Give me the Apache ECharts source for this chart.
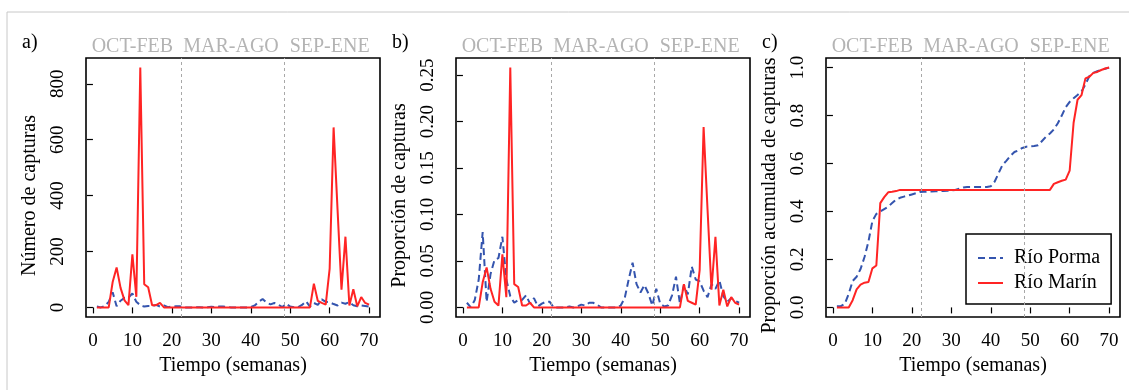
<!DOCTYPE html>
<html>
<head>
<meta charset="utf-8">
<script src="https://cdn.jsdelivr.net/npm/echarts@6/dist/echarts.min.js"></script>
<style>
html,body{margin:0;padding:0;background:#fff;}
#chart{width:1129px;height:390px;}
</style>
</head>
<body>
<div id="chart"></div>
<script>
// ---------- data ----------
const weeks = [1,2,3,4,5,6,7,8,9,10,11,12,13,14,15,16,17,18,19,20,21,22,23,24,25,26,27,28,29,30,31,32,33,34,35,36,37,38,39,40,41,42,43,44,45,46,47,48,49,50,51,52,53,54,55,56,57,58,59,60,61,62,63,64,65,66,67,68,69,70];

const seriesNames = ['Río Porma', 'Río Marín'];

// a) Número de capturas
const pormaCounts = [3,0,5,20,54,4,24,34,35,50, 20,8,3,5,5,9,3,7,1,3, 4,4,0,0,0,0,1,0,1,2, 1,3,3,2,0,0,0,0,0,1, 7,20,30,17,11,16,10,1,13,3, 1,1,9,22,3,16,9,29,20,18, 12,7,17,13,19,8,4,7,5,3];
const marinCounts = [0,0,0,0,91,143,70,25,8,190, 38,858,83,72,8,8,16,0,0,0,
  0,0,0,0,0,0,0,0,0,0, 0,0,0,0,0,0,0,0,0,0, 0,0,0,0,0,0,0,0,0,0, 0,0,0,0,0,
  85,23,16,10,139,644,350,63,253,7,65,4,37,16,10];

// b) Proporción de capturas
const pormaProp = [0.005,0,0.008,0.030,0.081,0.006,0.036,0.051,0.053,0.076,
  0.030,0.012,0.005,0.008,0.008,0.013,0.004,0.010,0.001,0.004,
  0.006,0.006,0,0,0,0,0.001,0,0.001,0.003,
  0.002,0.005,0.005,0.003,0,0,0,0,0,0.002,
  0.010,0.030,0.048,0.025,0.016,0.024,0.015,0.002,0.020,0.004,
  0.001,0.002,0.013,0.033,0.004,0.024,0.014,0.044,0.030,0.028,
  0.018,0.011,0.025,0.020,0.029,0.012,0.006,0.010,0.007,0.005];
const marinProp = [0,0,0,0,0.027,0.043,0.020,0.006,0.002,0.057,
  0.011,0.258,0.025,0.022,0.002,0.002,0.005,0,0,0,
  0,0,0,0,0,0,0,0,0,0, 0,0,0,0,0,0,0,0,0,0, 0,0,0,0,0,0,0,0,0,0, 0,0,0,0,0,
  0.025,0.007,0.005,0.003,0.040,0.194,0.105,0.019,0.076,0.002,0.019,0.001,0.011,0.005,0.003];

// c) Proporción acumulada de capturas
const pormaCum = [0.005,0.005,0.015,0.057,0.110,0.128,0.160,0.210,0.275,0.360,
  0.390,0.400,0.410,0.420,0.435,0.450,0.457,0.462,0.466,0.471,
  0.476,0.481,0.482,0.483,0.483,0.484,0.485,0.485,0.486,0.488,
  0.490,0.495,0.500,0.502,0.502,0.502,0.502,0.502,0.502,0.505,
  0.525,0.560,0.595,0.612,0.632,0.648,0.655,0.665,0.670,0.672,
  0.673,0.676,0.694,0.712,0.725,0.742,0.768,0.800,0.835,0.857,
  0.872,0.886,0.900,0.930,0.965,0.978,0.985,0.990,0.995,1.000];
const marinCum = [0,0,0,0,0.030,0.075,0.095,0.103,0.106,0.163,
  0.175,0.435,0.460,0.480,0.482,0.485,0.490,
  0.490,0.490,0.490,0.490,0.490,0.490,0.490,0.490,0.490,0.490,
  0.490,0.490,0.490,0.490,0.490,0.490,0.490,0.490,0.490,0.490,
  0.490,0.490,0.490,0.490,0.490,0.490,0.490,0.490,0.490,0.490,
  0.490,0.490,0.490,0.490,0.490,0.490,0.490,0.490,
  0.515,0.522,0.528,0.533,0.570,0.770,0.866,0.885,0.955,0.962,0.978,0.982,0.990,0.996,1.000];

// axes / annotation text
const xTicks = [0,10,20,30,40,50,60,70];
const yTicksA = [0,200,400,600,800];
const yTicksB = [0,0.05,0.10,0.15,0.20,0.25];
const yTicksC = [0,0.2,0.4,0.6,0.8,1.0];
const seasonPos = [10,35,60];
const seasonLabels = ['OCT-FEB','MAR-AGO','SEP-ENE'];
const seasonBreaks = [22.5,48.5];
const panelLabels = ['a)','b)','c)'];
const yTitles = ['Número de capturas','Proporción de capturas','Proporción acumulada de capturas'];
const xTitle = 'Tiempo (semanas)';

// ---------- chart ----------
const FONT = 'Liberation Serif, Times New Roman, serif';
const BLUE = '#3454ae';
const RED = '#ff2424';
const gridLefts = [86, 456, 826];
const gridW = 294, gridTop = 58, gridH = 259;

function rRange(arrs){ // R-style 4% padding
  let lo = Infinity, hi = -Infinity;
  arrs.forEach(a => a.forEach(v => { lo = Math.min(lo, v); hi = Math.max(hi, v); }));
  const pad = (hi - lo) * 0.04;
  return [lo - pad, hi + pad];
}
const xr = rRange([weeks]);
const panels = [
  {blue: pormaCounts, red: marinCounts, ticks: yTicksA, dec: 0, nameX: 30},
  {blue: pormaProp, red: marinProp, ticks: yTicksB, dec: 2, nameX: 400},
  {blue: pormaCum, red: marinCum, ticks: yTicksC, dec: 1, nameX: 770}
];

const grid = [], xAxis = [], yAxis = [], series = [], title = [];
panels.forEach((p, i) => {
  grid.push({left: gridLefts[i], top: gridTop, width: gridW, height: gridH,
    show: true, borderColor: '#000', borderWidth: 1.6, backgroundColor: 'transparent'});
  const yr = rRange([p.blue, p.red]);
  xAxis.push({type: 'value', gridIndex: i, min: xr[0], max: xr[1], position: 'bottom',
    axisLine: {show: false}, splitLine: {show: false},
    axisTick: {show: true, length: 6, customValues: xTicks, lineStyle: {color: '#000', width: 1.2}},
    axisLabel: {customValues: xTicks, color: '#000', fontFamily: FONT, fontSize: 19, margin: 15},
    name: xTitle, nameLocation: 'middle', nameGap: 38,
    nameTextStyle: {color: '#000', fontFamily: FONT, fontSize: 20}});
  yAxis.push({type: 'value', gridIndex: i, min: yr[0], max: yr[1],
    axisLine: {show: false}, splitLine: {show: false},
    axisTick: {show: true, length: 6, customValues: p.ticks, lineStyle: {color: '#000', width: 1.2}},
    axisLabel: {customValues: p.ticks, rotate: 90, color: '#000', fontFamily: FONT, fontSize: 19, margin: 18,
      formatter: v => v.toFixed(p.dec)},
    name: yTitles[i], nameLocation: 'middle', nameGap: gridLefts[i] - p.nameX - 10,
    nameTextStyle: {color: '#000', fontFamily: FONT, fontSize: 20, padding: [0, 16, 0, 0]}});
  title.push({text: panelLabels[i], left: gridLefts[i] - 64, top: 33, padding: 0,
    textStyle: {color: '#000', fontFamily: FONT, fontSize: 20, fontWeight: 'normal'}});
  series.push({name: seriesNames[0], type: 'line', xAxisIndex: i, yAxisIndex: i,
    data: weeks.map((w, k) => [w, p.blue[k]]), symbol: 'none', silent: true,
    lineStyle: {color: BLUE, width: 2, type: [7, 4]}, itemStyle: {color: BLUE},
    markLine: {silent: true, symbol: 'none', label: {show: false},
      lineStyle: {color: '#a8a8a8', width: 1, type: [3, 3]},
      data: seasonBreaks.map(b => ({xAxis: b}))}});
  series.push({name: seriesNames[1], type: 'line', xAxisIndex: i, yAxisIndex: i,
    data: weeks.map((w, k) => [w, p.red[k]]), symbol: 'none', silent: true,
    lineStyle: {color: RED, width: 2}, itemStyle: {color: RED}});
});
// season labels on top axes
panels.forEach((p, i) => {
  xAxis.push({type: 'value', gridIndex: i, min: xr[0], max: xr[1], position: 'top',
    axisLine: {show: false}, axisTick: {show: false}, splitLine: {show: false},
    axisLabel: {customValues: seasonPos, color: '#b4b4b4', fontFamily: FONT, fontSize: 20, margin: 1,
      formatter: v => seasonLabels[seasonPos.indexOf(v)]}});
});

const chart = echarts.init(document.getElementById('chart'), null, {renderer: 'canvas'});
chart.setOption({
  animation: false,
  backgroundColor: '#fff',
  title, grid, xAxis, yAxis, series,
  legend: {data: seriesNames, orient: 'vertical', left: 966, top: 234,
    backgroundColor: '#fff', borderColor: '#000', borderWidth: 1.5,
    padding: [14, 11, 11, 11], itemWidth: 25, itemHeight: 20, itemGap: 5,
    itemStyle: {opacity: 0},
    textStyle: {color: '#000', fontFamily: FONT, fontSize: 20, padding: [0, 0, 0, 6]}},
  graphic: [{type: 'rect', shape: {x: 7, y: 12, width: 1140, height: 400}, silent: true,
    style: {fill: 'none', stroke: '#c8c8c8', lineWidth: 1}}]
});
</script>
</body>
</html>
